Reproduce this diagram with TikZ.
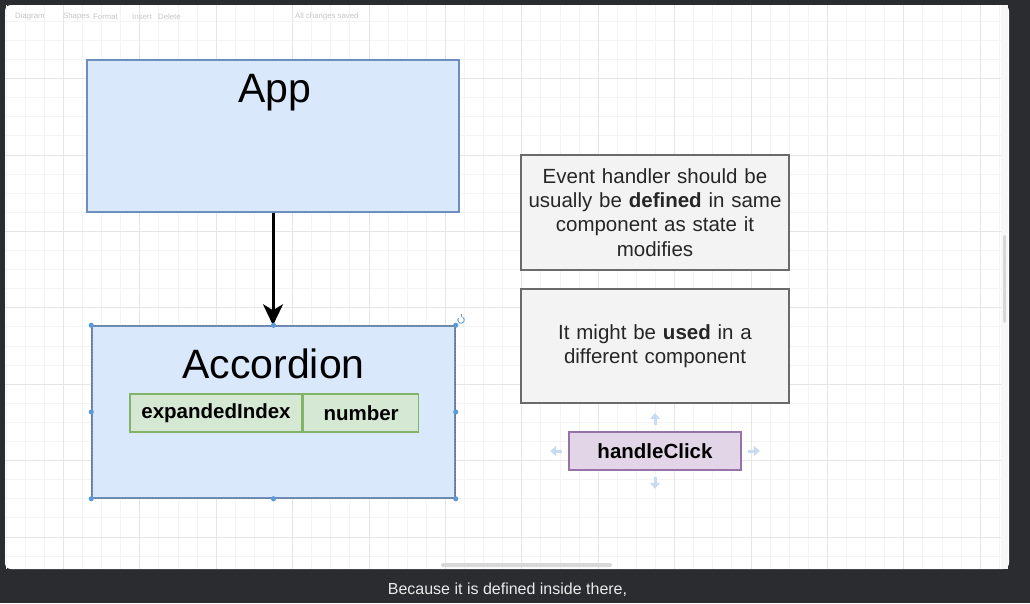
\documentclass[tikz,border=0pt]{standalone}
\usepackage{fontspec}
\setmainfont{Liberation Sans}
\usetikzlibrary{arrows.meta,positioning}
\definecolor{playerbg}{HTML}{2B2C2F}
\definecolor{bluefill}{HTML}{DAE8FC}
\definecolor{blueline}{HTML}{6C8EBF}
\definecolor{greenfill}{HTML}{D5E8D4}
\definecolor{greenline}{HTML}{82B366}
\definecolor{greyfill}{HTML}{F3F3F3}
\definecolor{greyline}{HTML}{6A6A6A}
\definecolor{purplefill}{HTML}{E1D5E7}
\definecolor{purpleline}{HTML}{9673A6}
\definecolor{handleblue}{HTML}{5B9BD5}
\definecolor{hoverblue}{HTML}{C9DBF0}
\definecolor{gridminor}{HTML}{F4F4F4}
\definecolor{gridmajor}{HTML}{E6E6E6}
\tikzset{
  comp/.style={draw=blueline,line width=1.5pt,fill=bluefill,inner sep=0pt},
  ctitle/.style={font=\fontsize{41}{49}\selectfont,inner sep=0pt},
  field/.style={draw=greenline,line width=1.6pt,fill=greenfill,minimum height=38pt,inner sep=0pt,font=\fontsize{20.5}{24}\selectfont\bfseries},
  note/.style={draw=greyline,line width=1.6pt,fill=greyfill,minimum width=268pt,text width=262pt,align=center,inner sep=0pt,text=black!85,font=\fontsize{20.5}{24.2}\selectfont},
  fnbox/.style={draw=purpleline,line width=1.6pt,fill=purplefill,minimum width=172pt,minimum height=38pt,inner sep=0pt,font=\fontsize{20.5}{24}\selectfont\bfseries},
  link/.style={line width=3pt,-{Stealth[length=21pt,width=20pt,inset=6pt]}},
  hover/.style={hoverblue,line width=3pt,-{Triangle[length=6pt,width=10pt]}},
  toolbar/.style={font=\fontsize{7.8}{9}\selectfont,text=gray!45,inner sep=0pt,anchor=west}
}
\newcommand{\drawgrid}{%
  \foreach \i in {0,...,52}{\draw[gridminor,line width=0.6pt] ({5.9+19.1*\i},5)--++(0,564);}
  \foreach \i in {1,...,29}{\draw[gridminor,line width=0.6pt] (5,{2+19.1*\i})--++(996,0);}
  \foreach \i in {0,...,12}{\draw[gridmajor,line width=0.6pt] ({63.2+76.4*\i},5)--++(0,564);}
  \foreach \i in {1,...,7}{\draw[gridmajor,line width=0.6pt] (5,{2+76.4*\i})--++(996,0);}}

\begin{document}
\begin{tikzpicture}[x=1pt,y=-1pt]
\useasboundingbox (0,0) rectangle (1030,603);
\fill[playerbg] (0,0) rectangle (1030,603);
\fill[white,rounded corners=6pt] (5,5) rectangle (1009,569);
\begin{scope}
  \clip (5,5) rectangle (1001,569);
  \drawgrid
\end{scope}
\fill[black!3] (1001,5) rectangle (1008,569);
\fill[black!15,rounded corners=1.5pt] (1003,235) rectangle (1006,323);
\fill[black!15,rounded corners=1.5pt] (441,563) rectangle (612,567);
% toolbar
\node[toolbar] (tdiagram) at (15,16.5) {Diagram};
\node[toolbar] (tshapes) at (63,16.5) {Shapes};
\node[toolbar] (tformat) at (93,16.5) {Format};
\node[toolbar] (tinsert) at (132,16.5) {Insert};
\node[toolbar] (tdelete) at (158,16.5) {Delete};
\node[toolbar] (tsaved) at (295,16.5) {All changes saved};

% components
\node[comp,minimum width=372pt,minimum height=152pt] (app) at (273,136) {};
\node[ctitle,anchor=base] (apptitle) at (274.5,102) {App};
\node[comp,minimum width=363pt,minimum height=172pt] (acc) at (273.5,412) {};
\node[ctitle,anchor=base] (acctitle) at (273.5,378) {Accordion};
\node[field,minimum width=172pt] (idx) at (216,413) {expandedIndex};
\node[field,minimum width=115pt,right=0pt of idx] (num) {number};
\draw[link] (app.south) -- (app.south |- acc.north);

% selection
\draw[black!55,line width=0.7pt,dash pattern=on 1.5pt off 1.5pt] (acc.north west) rectangle (acc.south east);
\foreach \p in {north west,north,north east,west,east,south west,south,south east}
  \fill[handleblue] (acc.\p) circle (2.6pt);
\draw[handleblue,line width=0.9pt] (461,320) ++(-60:3.3) arc (-60:220:3.3);
\draw[handleblue,line width=0.9pt] (461,316.7) -- ++(0,-2.4);

% notes
\node[note,minimum height=115pt] (note1) at (655,212.5) {Event handler should be\\ usually be \textbf{defined} in same\\ component as state it\\ modifies};
\node[note,minimum height=114pt] (note2) at (655,346) {It might be \textbf{used} in a\\ different component};
\node[fnbox] (click) at (655,451) {handleClick};
\draw[hover] (click.north) ++(0,-6) -- ++(0,-12);
\draw[hover] (click.south) ++(0,6) -- ++(0,12);
\draw[hover] (click.west) ++(-6,0) -- ++(-12,0);
\draw[hover] (click.east) ++(6,0) -- ++(12,0);

\node[font=\fontsize{16}{19}\selectfont,text=white!92!black,inner sep=0pt] (caption) at (507.5,590) {Because it is defined inside there,};
\end{tikzpicture}
\end{document}
